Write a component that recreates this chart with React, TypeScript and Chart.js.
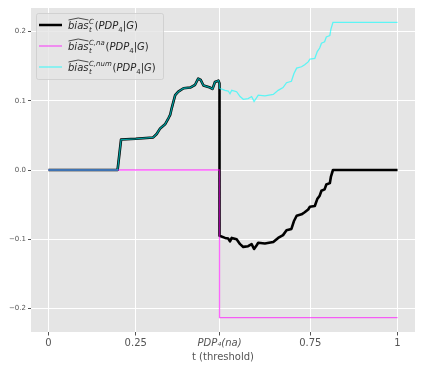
import React, { useEffect, useRef } from 'react';
import { Chart, registerables } from 'chart.js';

Chart.register(...registerables);

const T = [
  0, 0.198, 0.208, 0.25, 0.3, 0.31, 0.32, 0.334, 0.344, 0.349, 0.353, 0.363, 0.372, 0.387, 0.406, 0.42,
  0.429, 0.436, 0.444, 0.463, 0.47, 0.477, 0.487, 0.49, 0.49, 0.506, 0.515, 0.52, 0.525, 0.539, 0.549,
  0.558, 0.572, 0.582, 0.589, 0.596, 0.601, 0.62, 0.644, 0.658, 0.672, 0.682, 0.696, 0.703, 0.711,
  0.725, 0.734, 0.744, 0.749, 0.763, 0.77, 0.777, 0.782, 0.791, 0.796, 0.806, 0.809, 0.815, 1.0,
];

const CYAN_NUM = [
  0, 0, 0.044, 0.045, 0.047, 0.052, 0.06, 0.066, 0.075, 0.08, 0.089, 0.108, 0.113, 0.118, 0.119, 0.123,
  0.132, 0.13, 0.122, 0.119, 0.117, 0.127, 0.129, 0.125, 0.118, 0.115, 0.114, 0.11, 0.115, 0.113, 0.106,
  0.102, 0.103, 0.106, 0.099, 0.104, 0.108, 0.107, 0.109, 0.115, 0.119, 0.126, 0.128, 0.139, 0.147,
  0.149, 0.152, 0.156, 0.16, 0.161, 0.171, 0.176, 0.183, 0.185, 0.192, 0.194, 0.203, 0.213, 0.213,
];

const MAGENTA_NA = [
  0, 0, 0, 0, 0, 0, 0, 0, 0, 0, 0, 0, 0, 0, 0, 0,
  0, 0, 0, 0, 0, 0, 0, 0, -0.213, -0.213, -0.213, -0.213, -0.213, -0.213, -0.213,
  -0.213, -0.213, -0.213, -0.213, -0.213, -0.213, -0.213, -0.213, -0.213, -0.213, -0.213, -0.213, -0.213, -0.213,
  -0.213, -0.213, -0.213, -0.213, -0.213, -0.213, -0.213, -0.213, -0.213, -0.213, -0.213, -0.213, -0.213, -0.213,
];

const BLACK_C = [
  0, 0, 0.044, 0.045, 0.047, 0.052, 0.06, 0.066, 0.075, 0.08, 0.089, 0.108, 0.113, 0.118, 0.119, 0.123,
  0.132, 0.13, 0.122, 0.119, 0.117, 0.127, 0.129, 0.125, -0.095, -0.098, -0.099, -0.103, -0.098, -0.1, -0.107,
  -0.111, -0.11, -0.107, -0.114, -0.109, -0.105, -0.106, -0.104, -0.098, -0.094, -0.087, -0.085, -0.074, -0.066,
  -0.064, -0.061, -0.057, -0.053, -0.052, -0.042, -0.037, -0.03, -0.028, -0.021, -0.019, -0.01, 0, 0,
];

const X_TICKS = [0, 0.25, 0.49, 0.75, 1];
const X_TICK_LABELS = ['0', '0.25', 'PDP₄(na)', '0.75', '1'];
const Y_TICKS = [-0.2, -0.1, 0, 0.1, 0.2];
const LEGEND_SUPS = ['C', 'C,na', 'C,num'];

const FAMILY = "'DejaVu Sans', sans-serif";
const COL_BLACK = '#000000';
const COL_MAGENTA = 'rgba(255,0,255,0.6)';
const COL_CYAN = 'rgba(0,255,255,0.6)';

function drawMath(c: CanvasRenderingContext2D, x0: number, yc: number, sup: string) {
  const base = yc + 4;
  const it = (s: number) => `italic ${s}px ${FAMILY}`;
  const up = (s: number) => `${s}px ${FAMILY}`;
  let x = x0;
  c.textBaseline = 'alphabetic';
  c.textAlign = 'left';
  c.fillStyle = '#262626';
  c.strokeStyle = '#262626';
  c.font = it(10);
  c.fillText('bias', x, base);
  const wb = c.measureText('bias').width;
  c.lineWidth = 0.8;
  c.beginPath();
  c.moveTo(x + 0.5, base - 9);
  c.lineTo(x + wb / 2, base - 11);
  c.lineTo(x + wb, base - 9);
  c.stroke();
  x += wb + 0.5;
  c.font = it(7);
  c.fillText('t', x, base + 2.5);
  const wt = c.measureText('t').width;
  c.fillText(sup, x, base - 5);
  const ws = c.measureText(sup).width;
  x += Math.max(wt, ws) + 0.8;
  const parts: [string, string, number][] = [
    ['(', up(10), 0],
    ['PDP', it(10), 0],
    ['4', up(7), 2.5],
    ['|', up(10), 0],
    ['G', it(10), 0],
    [')', up(10), 0],
  ];
  for (const [s, f, dy] of parts) {
    c.font = f;
    c.fillText(s, x, base + dy);
    x += c.measureText(s).width;
  }
}

export default function App() {
  const ref = useRef<HTMLCanvasElement>(null);

  useEffect(() => {
    document.body.style.margin = '0';
    Chart.defaults.font.family = FAMILY;
    const canvas = ref.current!;
    const mk = (ys: number[]) => T.map((t, i) => ({ x: t, y: ys[i] }));

    const bgPlugin = {
      id: 'bg',
      beforeDraw(chart: any) {
        const { ctx, chartArea } = chart;
        ctx.save();
        ctx.fillStyle = '#E5E5E5';
        ctx.fillRect(chartArea.left, chartArea.top, chartArea.right - chartArea.left, chartArea.bottom - chartArea.top);
        ctx.restore();
      },
    };

    const legendPlugin = {
      id: 'mathLegend',
      afterDraw(chart: any) {
        const c: CanvasRenderingContext2D = chart.ctx;
        c.save();
        const bx = 36.5, by = 13.5, bw = 127, bh = 66, r = 2;
        c.beginPath();
        c.moveTo(bx + r, by);
        c.lineTo(bx + bw - r, by);
        c.quadraticCurveTo(bx + bw, by, bx + bw, by + r);
        c.lineTo(bx + bw, by + bh - r);
        c.quadraticCurveTo(bx + bw, by + bh, bx + bw - r, by + bh);
        c.lineTo(bx + r, by + bh);
        c.quadraticCurveTo(bx, by + bh, bx, by + bh - r);
        c.lineTo(bx, by + r);
        c.quadraticCurveTo(bx, by, bx + r, by);
        c.closePath();
        c.fillStyle = 'rgba(229,229,229,0.8)';
        c.fill();
        c.strokeStyle = 'rgba(204,204,204,0.8)';
        c.lineWidth = 1;
        c.stroke();
        const rows = [25, 46, 67];
        const cols = [COL_BLACK, COL_MAGENTA, COL_CYAN];
        const widths = [2.5, 1.3, 1.3];
        rows.forEach((y, i) => {
          c.beginPath();
          c.strokeStyle = cols[i];
          c.lineWidth = widths[i];
          c.moveTo(39, y);
          c.lineTo(62, y);
          c.stroke();
          drawMath(c, 68, y, LEGEND_SUPS[i]);
        });
        c.restore();
      },
    };

    const chart = new Chart(canvas, {
      type: 'line',
      data: {
        datasets: [
          { label: 'C', data: mk(BLACK_C), borderColor: COL_BLACK, borderWidth: 2.6, pointRadius: 0, order: 3, borderJoinStyle: 'round' },
          { label: 'na', data: mk(MAGENTA_NA), borderColor: COL_MAGENTA, borderWidth: 1.3, pointRadius: 0, order: 2 },
          { label: 'num', data: mk(CYAN_NUM), borderColor: COL_CYAN, borderWidth: 1.3, pointRadius: 0, order: 1 },
        ],
      },
      options: {
        responsive: false,
        animation: false,
        layout: { padding: { top: 8, right: 8, left: 0, bottom: 0 } },
        plugins: { legend: { display: false }, tooltip: { enabled: false } },
        scales: {
          x: {
            type: 'linear',
            min: -0.05,
            max: 1.05,
            afterBuildTicks: (s: any) => {
              s.ticks = X_TICKS.map((v) => ({ value: v }));
            },
            afterFit: (s: any) => {
              s.height = 38;
            },
            grid: { color: '#ffffff', tickColor: '#555555', tickLength: 3.5, lineWidth: 1 },
            border: { display: false },
            ticks: {
              color: '#555555',
              padding: 2,
              autoSkip: false,
              maxRotation: 0,
              callback: (_v: any, i: number) => X_TICK_LABELS[i],
              font: (ctx: any) => ({ size: 10, family: FAMILY, style: ctx.index === 2 ? 'italic' : 'normal' }),
            },
            title: {
              display: true,
              text: 't (threshold)',
              color: '#555555',
              font: { size: 10, family: FAMILY },
              padding: { top: 0, bottom: 7 },
            },
          },
          y: {
            type: 'linear',
            min: -0.2338,
            max: 0.2338,
            afterBuildTicks: (s: any) => {
              s.ticks = Y_TICKS.map((v) => ({ value: v }));
            },
            afterFit: (s: any) => {
              s.width = 31;
            },
            grid: { color: '#ffffff', tickColor: '#555555', tickLength: 3, lineWidth: 1 },
            border: { display: false },
            ticks: {
              color: '#555555',
              padding: 2,
              font: { size: 7, family: FAMILY },
              callback: (v: any) => Number(v).toFixed(1).replace('-', '\u2212'),
            },
          },
        },
      },
      plugins: [bgPlugin, legendPlugin],
    });
    return () => chart.destroy();
  }, []);

  return <canvas ref={ref} width={423} height={370} style={{ display: 'block' }} />;
}
